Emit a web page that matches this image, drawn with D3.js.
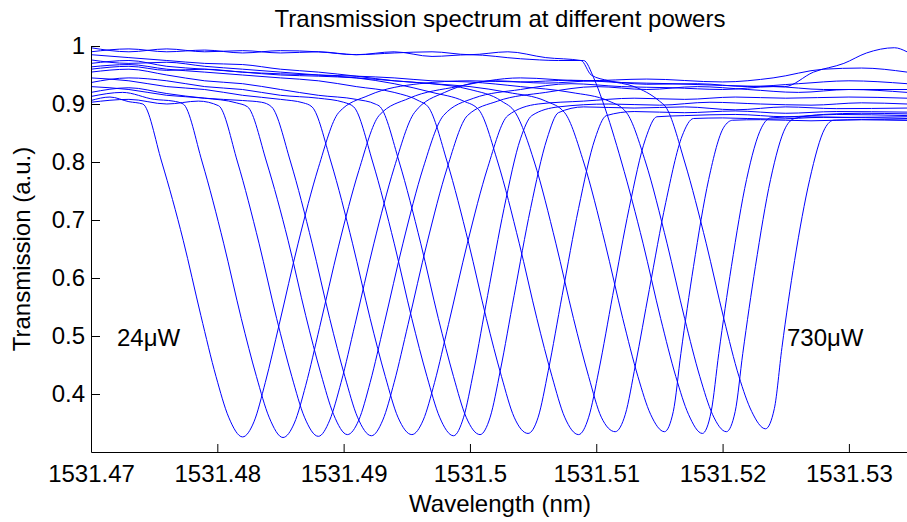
<!DOCTYPE html>
<html>
<head>
<meta charset="utf-8">
<script src="https://d3js.org/d3.v7.min.js"></script>
<style>
  body { margin: 0; background: #fff; }
  svg text { font-family: "Liberation Sans", Arial, Helvetica, sans-serif; fill: #000; }
  .axis path, .axis line { stroke: #000; }
  .axis text { font-size: 24px; }
</style>
</head>
<body>
<svg width="907" height="522"></svg>
<script>
// transmission spectra, [wavelength (nm), transmission (a.u.)], lowest power first
const c01 = [[1531.4700,0.906],[1531.4715,0.912],[1531.4730,0.904],[1531.4741,0.900],[1531.4756,0.800],[1531.4773,0.665],[1531.4787,0.535],[1531.4799,0.430],[1531.4809,0.360],[1531.4820,0.326],[1531.4829,0.352],[1531.4838,0.420],[1531.4849,0.520],[1531.4864,0.660],[1531.4880,0.790],[1531.4896,0.885],[1531.4920,0.915],[1531.4960,0.935],[1531.5000,0.940],[1531.5040,0.938],[1531.5080,0.941],[1531.5120,0.937],[1531.5160,0.935],[1531.5200,0.932],[1531.5249,0.930],[1531.5272,0.955],[1531.5296,0.970],[1531.5314,0.988],[1531.5336,0.997],[1531.5346,0.990]];
const c02 = [[1531.4700,0.913],[1531.4725,0.920],[1531.4750,0.908],[1531.4765,0.905],[1531.4773,0.900],[1531.4788,0.800],[1531.4805,0.660],[1531.4819,0.530],[1531.4831,0.430],[1531.4841,0.360],[1531.4852,0.325],[1531.4861,0.350],[1531.4870,0.415],[1531.4881,0.515],[1531.4896,0.655],[1531.4912,0.785],[1531.4928,0.880],[1531.4952,0.910],[1531.4990,0.930],[1531.5040,0.945],[1531.5090,0.940],[1531.5140,0.943],[1531.5200,0.938],[1531.5240,0.945],[1531.5280,0.960],[1531.5310,0.962],[1531.5346,0.955]];
const c03 = [[1531.4700,0.903],[1531.4730,0.908],[1531.4760,0.900],[1531.4785,0.905],[1531.4801,0.897],[1531.4816,0.800],[1531.4833,0.660],[1531.4847,0.530],[1531.4859,0.430],[1531.4869,0.360],[1531.4880,0.327],[1531.4889,0.355],[1531.4898,0.420],[1531.4909,0.520],[1531.4924,0.660],[1531.4940,0.790],[1531.4956,0.885],[1531.4980,0.920],[1531.5020,0.940],[1531.5060,0.936],[1531.5100,0.940],[1531.5140,0.934],[1531.5180,0.935],[1531.5220,0.930],[1531.5260,0.935],[1531.5300,0.940],[1531.5346,0.935]];
const c04 = [[1531.4700,0.930],[1531.4730,0.925],[1531.4760,0.915],[1531.4790,0.910],[1531.4815,0.902],[1531.4824,0.895],[1531.4839,0.800],[1531.4856,0.665],[1531.4870,0.535],[1531.4882,0.435],[1531.4892,0.365],[1531.4903,0.330],[1531.4912,0.355],[1531.4921,0.420],[1531.4932,0.520],[1531.4947,0.660],[1531.4963,0.790],[1531.4979,0.880],[1531.5003,0.910],[1531.5040,0.925],[1531.5080,0.935],[1531.5120,0.930],[1531.5160,0.928],[1531.5200,0.925],[1531.5240,0.930],[1531.5280,0.925],[1531.5346,0.925]];
const c05 = [[1531.4700,0.920],[1531.4730,0.928],[1531.4760,0.918],[1531.4790,0.910],[1531.4820,0.906],[1531.4835,0.903],[1531.4843,0.895],[1531.4858,0.800],[1531.4875,0.660],[1531.4889,0.530],[1531.4901,0.430],[1531.4911,0.360],[1531.4922,0.328],[1531.4931,0.355],[1531.4940,0.420],[1531.4951,0.520],[1531.4966,0.660],[1531.4982,0.790],[1531.4998,0.880],[1531.5022,0.905],[1531.5060,0.920],[1531.5100,0.930],[1531.5140,0.925],[1531.5180,0.930],[1531.5220,0.925],[1531.5260,0.920],[1531.5300,0.925],[1531.5346,0.920]];
const c06 = [[1531.4700,0.945],[1531.4730,0.940],[1531.4760,0.930],[1531.4790,0.925],[1531.4820,0.915],[1531.4850,0.908],[1531.4868,0.902],[1531.4875,0.895],[1531.4890,0.800],[1531.4907,0.660],[1531.4921,0.530],[1531.4933,0.430],[1531.4943,0.360],[1531.4954,0.330],[1531.4963,0.355],[1531.4972,0.420],[1531.4983,0.520],[1531.4998,0.660],[1531.5014,0.790],[1531.5030,0.880],[1531.5054,0.900],[1531.5090,0.905],[1531.5130,0.910],[1531.5170,0.908],[1531.5210,0.912],[1531.5250,0.910],[1531.5300,0.912],[1531.5346,0.910]];
const c07 = [[1531.4700,0.937],[1531.4730,0.945],[1531.4760,0.940],[1531.4790,0.930],[1531.4820,0.925],[1531.4850,0.915],[1531.4880,0.910],[1531.4900,0.903],[1531.4908,0.895],[1531.4923,0.800],[1531.4940,0.660],[1531.4954,0.530],[1531.4966,0.430],[1531.4976,0.360],[1531.4987,0.328],[1531.4995,0.360],[1531.5003,0.440],[1531.5014,0.570],[1531.5027,0.720],[1531.5040,0.840],[1531.5049,0.880],[1531.5070,0.895],[1531.5110,0.900],[1531.5150,0.898],[1531.5190,0.903],[1531.5230,0.900],[1531.5270,0.898],[1531.5310,0.902],[1531.5346,0.900]];
const c08 = [[1531.4700,0.955],[1531.4730,0.960],[1531.4760,0.950],[1531.4790,0.940],[1531.4820,0.935],[1531.4850,0.925],[1531.4880,0.915],[1531.4910,0.908],[1531.4925,0.900],[1531.4929,0.895],[1531.4944,0.800],[1531.4961,0.660],[1531.4975,0.530],[1531.4987,0.430],[1531.4997,0.360],[1531.5008,0.330],[1531.5016,0.360],[1531.5024,0.440],[1531.5035,0.570],[1531.5048,0.720],[1531.5061,0.840],[1531.5070,0.885],[1531.5090,0.895],[1531.5130,0.893],[1531.5170,0.895],[1531.5210,0.890],[1531.5250,0.895],[1531.5290,0.892],[1531.5346,0.893]];
const c09 = [[1531.4700,0.964],[1531.4730,0.968],[1531.4760,0.960],[1531.4790,0.955],[1531.4820,0.950],[1531.4850,0.945],[1531.4880,0.940],[1531.4910,0.930],[1531.4940,0.920],[1531.4960,0.905],[1531.4967,0.895],[1531.4982,0.800],[1531.4999,0.660],[1531.5013,0.530],[1531.5025,0.430],[1531.5035,0.360],[1531.5046,0.332],[1531.5054,0.360],[1531.5062,0.440],[1531.5073,0.570],[1531.5086,0.720],[1531.5099,0.840],[1531.5108,0.880],[1531.5130,0.887],[1531.5170,0.885],[1531.5210,0.888],[1531.5250,0.884],[1531.5290,0.887],[1531.5346,0.886]];
const c10 = [[1531.4700,0.976],[1531.4730,0.970],[1531.4760,0.972],[1531.4790,0.965],[1531.4820,0.960],[1531.4850,0.955],[1531.4880,0.950],[1531.4910,0.945],[1531.4940,0.935],[1531.4970,0.920],[1531.4995,0.905],[1531.5007,0.890],[1531.5022,0.800],[1531.5039,0.660],[1531.5053,0.530],[1531.5065,0.430],[1531.5075,0.360],[1531.5086,0.330],[1531.5094,0.360],[1531.5102,0.440],[1531.5113,0.570],[1531.5126,0.720],[1531.5139,0.840],[1531.5148,0.878],[1531.5170,0.880],[1531.5210,0.882],[1531.5250,0.878],[1531.5290,0.882],[1531.5346,0.880]];
const c11 = [[1531.4700,0.985],[1531.4730,0.980],[1531.4760,0.975],[1531.4790,0.970],[1531.4820,0.968],[1531.4850,0.960],[1531.4880,0.955],[1531.4910,0.948],[1531.4940,0.940],[1531.4970,0.935],[1531.5000,0.925],[1531.5025,0.905],[1531.5036,0.885],[1531.5051,0.800],[1531.5068,0.660],[1531.5082,0.530],[1531.5094,0.430],[1531.5104,0.360],[1531.5115,0.335],[1531.5123,0.365],[1531.5131,0.450],[1531.5142,0.580],[1531.5155,0.730],[1531.5168,0.845],[1531.5177,0.875],[1531.5200,0.876],[1531.5240,0.874],[1531.5280,0.877],[1531.5346,0.875]];
const c12 = [[1531.4700,0.970],[1531.4730,0.975],[1531.4760,0.965],[1531.4790,0.960],[1531.4820,0.955],[1531.4850,0.950],[1531.4880,0.948],[1531.4910,0.945],[1531.4940,0.940],[1531.4970,0.935],[1531.5000,0.930],[1531.5030,0.920],[1531.5060,0.905],[1531.5075,0.885],[1531.5090,0.800],[1531.5107,0.660],[1531.5121,0.530],[1531.5133,0.430],[1531.5143,0.365],[1531.5154,0.335],[1531.5161,0.370],[1531.5167,0.470],[1531.5177,0.620],[1531.5189,0.770],[1531.5201,0.860],[1531.5208,0.872],[1531.5230,0.873],[1531.5270,0.871],[1531.5310,0.873],[1531.5346,0.872]];
const c13 = [[1531.4700,0.990],[1531.4730,0.995],[1531.4760,0.990],[1531.4790,0.993],[1531.4820,0.988],[1531.4850,0.992],[1531.4880,0.990],[1531.4910,0.985],[1531.4940,0.990],[1531.4970,0.982],[1531.5000,0.985],[1531.5040,0.978],[1531.5070,0.975],[1531.5090,0.975],[1531.5098,0.945],[1531.5105,0.905],[1531.5120,0.800],[1531.5137,0.660],[1531.5151,0.530],[1531.5163,0.430],[1531.5173,0.365],[1531.5184,0.332],[1531.5191,0.370],[1531.5197,0.470],[1531.5207,0.620],[1531.5219,0.770],[1531.5231,0.860],[1531.5238,0.876],[1531.5260,0.878],[1531.5300,0.877],[1531.5346,0.878]];
const c14 = [[1531.4700,0.960],[1531.4730,0.965],[1531.4760,0.958],[1531.4790,0.960],[1531.4820,0.955],[1531.4850,0.952],[1531.4880,0.950],[1531.4910,0.948],[1531.4940,0.945],[1531.4970,0.940],[1531.5000,0.938],[1531.5040,0.930],[1531.5080,0.920],[1531.5110,0.905],[1531.5124,0.885],[1531.5139,0.800],[1531.5156,0.660],[1531.5170,0.530],[1531.5182,0.430],[1531.5192,0.365],[1531.5203,0.335],[1531.5210,0.370],[1531.5216,0.470],[1531.5226,0.620],[1531.5238,0.770],[1531.5250,0.860],[1531.5257,0.875],[1531.5280,0.882],[1531.5310,0.884],[1531.5346,0.883]];
const c15 = [[1531.4700,0.997],[1531.4730,0.990],[1531.4760,0.995],[1531.4790,0.990],[1531.4820,0.992],[1531.4850,0.988],[1531.4880,0.990],[1531.4910,0.985],[1531.4940,0.988],[1531.4970,0.990],[1531.5000,0.985],[1531.5030,0.990],[1531.5060,0.980],[1531.5088,0.975],[1531.5096,0.950],[1531.5110,0.940],[1531.5130,0.930],[1531.5150,0.905],[1531.5155,0.895],[1531.5170,0.800],[1531.5187,0.660],[1531.5201,0.530],[1531.5213,0.430],[1531.5223,0.370],[1531.5234,0.340],[1531.5241,0.375],[1531.5247,0.480],[1531.5257,0.630],[1531.5269,0.770],[1531.5281,0.858],[1531.5288,0.872],[1531.5310,0.873],[1531.5346,0.872]];
const curves = [c01, c02, c03, c04, c05, c06, c07, c08, c09, c10, c11, c12, c13, c14, c15];

const xTicks = [1531.47, 1531.48, 1531.49, 1531.5, 1531.51, 1531.52, 1531.53];
const yTicks = [0.4, 0.5, 0.6, 0.7, 0.8, 0.9, 1];
const powerLabels = ['24\u03bcW', '730\u03bcW'];

const svg = d3.select('svg');
const mLeft = 91, mRight = 907, mTop = 46, mBottom = 452;

const x = d3.scaleLinear().domain([1531.47, 1531.5346]).range([mLeft, mRight]);
const y = d3.scaleLinear().domain([0.3, 1]).range([mBottom, mTop]);

svg.append('defs').append('clipPath').attr('id', 'plot')
  .append('rect').attr('x', mLeft).attr('y', mTop - 2).attr('width', mRight - mLeft).attr('height', mBottom - mTop + 2);

const line = d3.line().curve(d3.curveMonotoneX).x(d => x(d[0])).y(d => y(d[1]));

svg.append('g').attr('clip-path', 'url(#plot)')
  .selectAll('path').data(curves).enter().append('path')
  .attr('d', line)
  .attr('fill', 'none')
  .attr('stroke', '#0000ff')
  .attr('stroke-width', 1);

// inward ticks, MATLAB style, no box
svg.append('g').attr('class', 'axis')
  .attr('transform', 'translate(0,' + mBottom + ')')
  .call(d3.axisBottom(x).tickValues(xTicks).tickFormat(d => String(d))
    .tickSizeInner(-8).tickSizeOuter(0).tickPadding(13));

svg.append('g').attr('class', 'axis')
  .attr('transform', 'translate(' + mLeft + ',0)')
  .call(d3.axisLeft(y).tickValues(yTicks).tickFormat(d => String(d))
    .tickSizeInner(-9).tickSizeOuter(0).tickPadding(6));

svg.selectAll('.axis text').attr('fill', '#000');

svg.append('text')
  .attr('x', 500).attr('y', 27)
  .attr('text-anchor', 'middle')
  .style('font-size', '24px')
  .text('Transmission spectrum at different powers');

svg.append('text')
  .attr('x', 500).attr('y', 512)
  .attr('text-anchor', 'middle')
  .style('font-size', '24px')
  .text('Wavelength (nm)');

svg.append('text')
  .attr('transform', 'translate(30,' + ((mTop + mBottom) / 2) + ') rotate(-90)')
  .attr('text-anchor', 'middle')
  .style('font-size', '24px')
  .text('Transmission (a.u.)');

svg.append('text').attr('x', 117).attr('y', 346).style('font-size', '24px').text(powerLabels[0]);
svg.append('text').attr('x', 787).attr('y', 346).style('font-size', '24px').text(powerLabels[1]);
</script>
</body>
</html>
